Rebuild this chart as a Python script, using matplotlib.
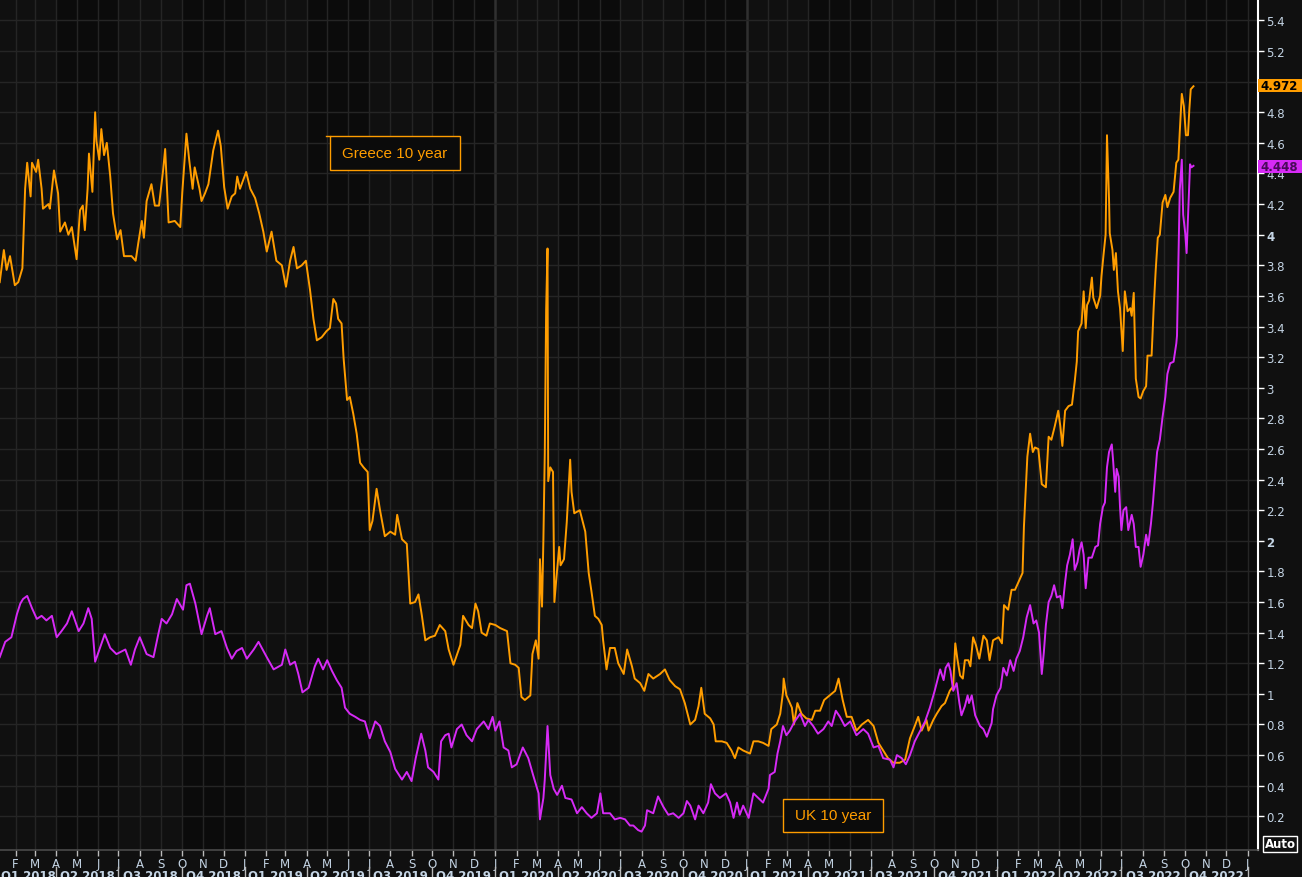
import matplotlib
matplotlib.use('Agg')
import matplotlib.pyplot as plt
import matplotlib.transforms as mtransforms
from matplotlib.patches import Rectangle
import pandas as pd

BASE = pd.Timestamp('2018-01-01')

# (days since 2018-01-01, yield %)
greece_points = [
    (8, 3.69), (14, 3.90), (18, 3.77), (23, 3.86), (30, 3.67), (35, 3.69), (41, 3.78), (45, 4.30), (48, 4.47), (53, 4.25),
    (55, 4.47), (61, 4.41), (64, 4.49), (69, 4.30), (71, 4.17), (79, 4.20), (81, 4.17), (87, 4.42), (93, 4.27), (96, 4.02),
    (103, 4.08), (108, 4.00), (113, 4.05), (120, 3.84), (125, 4.16), (129, 4.19), (132, 4.03), (136, 4.30), (138, 4.53), (143, 4.28),
    (147, 4.80), (149, 4.61), (153, 4.49), (156, 4.69), (160, 4.52), (164, 4.60), (169, 4.38), (173, 4.14), (179, 3.97), (184, 4.03),
    (189, 3.86), (200, 3.86), (206, 3.83), (210, 3.95), (215, 4.09), (218, 3.98), (222, 4.22), (229, 4.33), (234, 4.19), (240, 4.19),
    (246, 4.42), (249, 4.56), (254, 4.08), (263, 4.09), (271, 4.05), (274, 4.28), (280, 4.66), (284, 4.49), (289, 4.30), (292, 4.44),
    (299, 4.30), (302, 4.22), (307, 4.27), (312, 4.33), (319, 4.55), (326, 4.68), (330, 4.58), (335, 4.31), (340, 4.17), (346, 4.25),
    (351, 4.27), (354, 4.38), (358, 4.30), (367, 4.41), (373, 4.30), (380, 4.24), (386, 4.14), (392, 4.02), (397, 3.89), (404, 4.02),
    (411, 3.83), (419, 3.80), (425, 3.66), (431, 3.83), (436, 3.92), (441, 3.78), (448, 3.80), (454, 3.83), (460, 3.64),
    (465, 3.45), (470, 3.31), (477, 3.33), (484, 3.37), (489, 3.39), (494, 3.58), (498, 3.55), (501, 3.45), (506, 3.42), (509, 3.19),
    (514, 2.92), (518, 2.94), (523, 2.83), (528, 2.70), (533, 2.51), (538, 2.48), (544, 2.45), (547, 2.07), (551, 2.13), (557, 2.34),
    (562, 2.20), (569, 2.03), (577, 2.06), (584, 2.04), (587, 2.17), (594, 2.01), (601, 1.98), (606, 1.59), (613, 1.60), (618, 1.65),
    (623, 1.51), (628, 1.35), (635, 1.37), (642, 1.38), (649, 1.45), (657, 1.41), (662, 1.29), (669, 1.19), (679, 1.32), (683, 1.51),
    (691, 1.45), (696, 1.43), (701, 1.59), (705, 1.54), (710, 1.40), (717, 1.38), (722, 1.46), (730, 1.45), (737, 1.43), (747, 1.41),
    (752, 1.20), (759, 1.19), (764, 1.17), (768, 0.98), (773, 0.96), (781, 0.99), (784, 1.26), (789, 1.35), (793, 1.23), (795, 1.88),
    (798, 1.57), (800, 2.01), (802, 2.57), (804, 3.51), (806, 3.91), (807, 2.39), (810, 2.48), (814, 2.45), (816, 1.60), (819, 1.76),
    (823, 1.96), (825, 1.84), (830, 1.88), (834, 2.12), (839, 2.53), (841, 2.32), (845, 2.18), (853, 2.20), (861, 2.06), (866, 1.79),
    (870, 1.67), (875, 1.51), (880, 1.49), (885, 1.45), (887, 1.35), (892, 1.16), (897, 1.30), (904, 1.30), (909, 1.20), (917, 1.13),
    (922, 1.29), (929, 1.18), (933, 1.10), (941, 1.07), (947, 1.02), (953, 1.13), (960, 1.10), (970, 1.13), (977, 1.16), (984, 1.09),
    (992, 1.05), (999, 1.03), (1006, 0.94), (1014, 0.80), (1021, 0.83), (1026, 0.92), (1030, 1.04), (1035, 0.87), (1043, 0.84), (1048, 0.80),
    (1051, 0.69), (1060, 0.69), (1067, 0.68), (1074, 0.63), (1079, 0.58), (1084, 0.65), (1091, 0.63), (1101, 0.61), (1106, 0.69), (1113, 0.69),
    (1120, 0.68), (1128, 0.66), (1132, 0.77), (1140, 0.80), (1145, 0.87), (1149, 1.01), (1150, 1.10), (1154, 0.99), (1162, 0.91), (1165, 0.80),
    (1170, 0.94), (1176, 0.87), (1183, 0.84), (1191, 0.83), (1196, 0.89), (1203, 0.89), (1209, 0.96), (1217, 0.99), (1225, 1.02), (1230, 1.10),
    (1236, 0.96), (1242, 0.85), (1249, 0.85), (1256, 0.76), (1264, 0.80), (1273, 0.83), (1281, 0.79), (1288, 0.68), (1295, 0.63), (1302, 0.58),
    (1310, 0.55), (1319, 0.55), (1327, 0.57), (1334, 0.71), (1341, 0.79), (1346, 0.85), (1351, 0.76), (1358, 0.83), (1361, 0.76), (1368, 0.83),
    (1373, 0.87), (1380, 0.92), (1385, 0.94), (1392, 1.02), (1397, 1.05), (1400, 1.33), (1403, 1.23), (1407, 1.12), (1411, 1.10), (1414, 1.22),
    (1419, 1.22), (1422, 1.18), (1426, 1.37), (1430, 1.32), (1435, 1.23), (1441, 1.38), (1446, 1.35), (1450, 1.22), (1455, 1.35), (1463, 1.37),
    (1468, 1.33), (1471, 1.58), (1477, 1.55), (1482, 1.68), (1487, 1.68), (1493, 1.74), (1498, 1.79), (1500, 2.09), (1503, 2.37), (1505, 2.55),
    (1509, 2.70), (1513, 2.58), (1516, 2.61), (1521, 2.60), (1526, 2.37), (1532, 2.35), (1536, 2.68), (1540, 2.66), (1545, 2.75), (1550, 2.85),
    (1553, 2.75), (1556, 2.62), (1560, 2.85), (1565, 2.88), (1570, 2.89), (1574, 3.04), (1577, 3.17), (1579, 3.37), (1584, 3.42), (1587, 3.63),
    (1590, 3.39), (1592, 3.54), (1595, 3.57), (1599, 3.72), (1601, 3.59), (1606, 3.52), (1611, 3.60), (1613, 3.73), (1616, 3.87), (1619, 4.00),
    (1621, 4.65), (1624, 4.23), (1625, 4.01), (1629, 3.90), (1631, 3.77), (1634, 3.88), (1637, 3.63), (1640, 3.52), (1644, 3.24), (1647, 3.63),
    (1651, 3.50), (1655, 3.52), (1657, 3.47), (1660, 3.62), (1663, 3.06), (1667, 2.94), (1670, 2.93), (1674, 2.98), (1678, 3.01), (1680, 3.21),
    (1686, 3.21), (1689, 3.52), (1692, 3.77), (1695, 3.98), (1698, 4.00), (1702, 4.21), (1706, 4.26), (1709, 4.18), (1713, 4.24), (1718, 4.28),
    (1722, 4.47), (1725, 4.49), (1727, 4.67), (1730, 4.92), (1733, 4.84), (1736, 4.65), (1739, 4.65), (1741, 4.82), (1743, 4.95), (1747, 4.97),
]

uk_points = [
    (8, 1.24), (16, 1.34), (25, 1.37), (33, 1.52), (38, 1.59), (42, 1.62), (48, 1.64), (55, 1.56), (62, 1.49), (69, 1.51),
    (76, 1.48), (84, 1.51), (91, 1.37), (98, 1.41), (106, 1.46), (113, 1.54), (123, 1.41), (130, 1.46), (137, 1.56), (142, 1.49),
    (147, 1.21), (154, 1.30), (161, 1.39), (169, 1.30), (178, 1.26), (191, 1.29), (199, 1.19), (205, 1.29), (212, 1.37), (222, 1.26),
    (232, 1.24), (239, 1.39), (244, 1.49), (251, 1.46), (259, 1.52), (266, 1.62), (275, 1.55), (280, 1.71), (285, 1.72), (293, 1.59),
    (302, 1.39), (310, 1.51), (314, 1.56), (322, 1.39), (331, 1.41), (339, 1.30), (346, 1.23), (353, 1.28), (361, 1.30), (368, 1.23),
    (378, 1.29), (385, 1.34), (397, 1.24), (407, 1.16), (419, 1.19), (424, 1.29), (431, 1.19), (438, 1.21), (443, 1.13), (449, 1.01),
    (458, 1.04), (467, 1.18), (472, 1.23), (479, 1.16), (485, 1.22), (492, 1.15), (499, 1.09), (506, 1.04), (511, 0.91), (518, 0.87),
    (526, 0.85), (533, 0.83), (540, 0.82), (547, 0.71), (555, 0.82), (562, 0.79), (569, 0.69), (577, 0.62), (584, 0.51), (594, 0.44),
    (601, 0.49), (608, 0.43), (614, 0.58), (622, 0.74), (628, 0.63), (632, 0.52), (640, 0.49), (647, 0.44), (651, 0.69), (657, 0.73),
    (662, 0.74), (666, 0.65), (674, 0.77), (681, 0.80), (688, 0.73), (696, 0.69), (703, 0.77), (713, 0.82), (720, 0.77), (726, 0.85),
    (730, 0.76), (736, 0.82), (742, 0.65), (749, 0.63), (754, 0.52), (761, 0.54), (770, 0.65), (778, 0.58), (785, 0.47), (793, 0.35),
    (795, 0.18), (800, 0.32), (802, 0.44), (806, 0.79), (810, 0.47), (815, 0.38), (820, 0.34), (827, 0.40), (832, 0.32), (841, 0.31),
    (849, 0.22), (856, 0.26), (863, 0.22), (870, 0.19), (878, 0.22), (883, 0.35), (887, 0.22), (897, 0.22), (904, 0.18), (912, 0.19),
    (919, 0.18), (926, 0.14), (931, 0.14), (938, 0.11), (943, 0.10), (948, 0.14), (951, 0.24), (960, 0.22), (967, 0.33), (975, 0.26),
    (982, 0.21), (989, 0.22), (997, 0.19), (1004, 0.22), (1009, 0.30), (1014, 0.27), (1021, 0.18), (1026, 0.27), (1033, 0.22), (1040, 0.29),
    (1044, 0.41), (1050, 0.35), (1057, 0.32), (1066, 0.35), (1072, 0.29), (1077, 0.19), (1082, 0.29), (1086, 0.21), (1091, 0.27), (1099, 0.19),
    (1106, 0.35), (1113, 0.32), (1120, 0.29), (1128, 0.38), (1130, 0.47), (1137, 0.49), (1141, 0.61), (1145, 0.69), (1149, 0.79), (1154, 0.73),
    (1159, 0.76), (1166, 0.82), (1174, 0.87), (1181, 0.79), (1186, 0.83), (1193, 0.79), (1200, 0.74), (1208, 0.77), (1215, 0.82), (1220, 0.79),
    (1226, 0.89), (1232, 0.85), (1239, 0.79), (1247, 0.82), (1256, 0.73), (1266, 0.77), (1273, 0.74), (1281, 0.65), (1288, 0.66), (1295, 0.58),
    (1305, 0.57), (1310, 0.52), (1315, 0.60), (1322, 0.58), (1328, 0.54), (1334, 0.60), (1341, 0.69), (1349, 0.76), (1356, 0.82), (1363, 0.91),
    (1370, 1.02), (1378, 1.16), (1383, 1.09), (1386, 1.17), (1390, 1.20), (1393, 1.15), (1397, 1.02), (1402, 1.07), (1406, 0.94), (1409, 0.86),
    (1414, 0.92), (1418, 0.99), (1420, 0.94), (1424, 0.99), (1429, 0.86), (1436, 0.79), (1441, 0.77), (1446, 0.72), (1453, 0.81), (1455, 0.90),
    (1460, 0.99), (1466, 1.04), (1470, 1.17), (1475, 1.12), (1480, 1.22), (1485, 1.15), (1489, 1.23), (1494, 1.28), (1499, 1.37), (1504, 1.50),
    (1509, 1.58), (1514, 1.46), (1518, 1.48), (1522, 1.40), (1526, 1.13), (1529, 1.27), (1532, 1.45), (1536, 1.60), (1540, 1.64), (1544, 1.71),
    (1548, 1.63), (1553, 1.64), (1556, 1.56), (1560, 1.73), (1563, 1.84), (1567, 1.91), (1571, 2.01), (1574, 1.81), (1578, 1.86), (1581, 1.94),
    (1584, 1.99), (1587, 1.91), (1590, 1.69), (1594, 1.89), (1599, 1.89), (1604, 1.96), (1608, 1.97), (1611, 2.11), (1615, 2.22), (1618, 2.25),
    (1621, 2.48), (1624, 2.58), (1628, 2.63), (1630, 2.52), (1633, 2.32), (1635, 2.47), (1638, 2.42), (1640, 2.22), (1642, 2.07), (1645, 2.20),
    (1649, 2.22), (1652, 2.07), (1657, 2.17), (1660, 2.11), (1663, 1.96), (1667, 1.96), (1670, 1.83), (1674, 1.91), (1678, 2.04), (1681, 1.97),
    (1685, 2.11), (1688, 2.25), (1691, 2.42), (1694, 2.58), (1698, 2.66), (1702, 2.81), (1706, 2.94), (1709, 3.09), (1713, 3.16), (1718, 3.17),
    (1722, 3.29), (1723, 3.34), (1725, 3.82), (1727, 4.29), (1730, 4.49), (1732, 4.13), (1735, 4.01), (1737, 3.88), (1740, 4.23), (1742, 4.46),
    (1744, 4.44), (1747, 4.45),
]

greece_last = 4.972
uk_last = 4.448
greece_label = 'Greece 10 year'
uk_label = 'UK 10 year'
month_letters = ['J', 'F', 'M', 'A', 'M', 'J', 'J', 'A', 'S', 'O', 'N', 'D']
y_ticks = [round(0.2 * i, 1) for i in range(1, 29)]

ORANGE = '#ff9d00'
MAGENTA = '#d62af5'
TICK_COL = '#c4d4e4'
GRID_COL = '#252525'
BG = '#0b0b0b'
BG2 = '#101010'


def to_series(points):
    d = [BASE + pd.Timedelta(days=p[0]) for p in points]
    v = [p[1] for p in points]
    return d, v


g_d, g_v = to_series(greece_points)
u_d, u_v = to_series(uk_points)

W, H = 1302, 878
fig = plt.figure(figsize=(W / 100, H / 100), dpi=100, facecolor='#101010')
ax_w, ax_h = 1258, 851
ax = fig.add_axes([0, 1 - ax_h / H, ax_w / W, ax_h / H])
ax.set_facecolor(BG)

x0 = BASE + pd.Timedelta(days=8.4)
x1 = BASE + pd.Timedelta(days=1841)

# alternating quarter shading
qstarts = pd.date_range('2018-01-01', '2023-01-01', freq='QS')
for i, qs in enumerate(qstarts[:-1]):
    if i % 2 == 0:
        ax.axvspan(qs, qstarts[i + 1], color=BG2, zorder=0, lw=0)

# grid
months = pd.date_range('2018-02-01', '2023-01-01', freq='MS')
for m in months:
    strong = (m.month == 1 and m.year in (2020, 2021))
    ax.axvline(m, color='#303030' if strong else GRID_COL, lw=1.8 if strong else 1.0, zorder=1)
for yv in y_ticks:
    ax.axhline(yv, color=GRID_COL, lw=1.0, zorder=1)

ax.plot(g_d, g_v, color=ORANGE, lw=1.4, zorder=3)
ax.plot(u_d, u_v, color=MAGENTA, lw=1.4, zorder=4)

# spines
for s in ['left', 'top']:
    ax.spines[s].set_visible(False)
ax.spines['right'].set_color('white')
ax.spines['right'].set_linewidth(1.5)
ax.spines['bottom'].set_color('#4a4a4a')
ax.spines['bottom'].set_linewidth(1.2)

# y axis on right
ax.yaxis.tick_right()
ax.set_yticks(y_ticks)
ax.set_yticklabels(['%g' % v for v in y_ticks])
ax.tick_params(axis='y', colors='white', labelcolor=TICK_COL, labelsize=8.5, length=4, width=1, pad=2)
for lbl, v in zip(ax.get_yticklabels(), y_ticks):
    if v in (2.0, 4.0):
        lbl.set_fontweight('bold')

# x axis month ticks
ax.set_xticks(months)
ax.set_xticklabels([month_letters[m.month - 1] for m in months])
ax.tick_params(axis='x', colors='#bbbbbb', labelcolor=TICK_COL, labelsize=8.5, length=4, width=1, pad=1)

# limits after ticks (set_ticks may expand limits)
ax.set_xlim(x0, x1)
ax.set_ylim(-0.02, 5.54)

# quarter labels and separators
trans_x = mtransforms.blended_transform_factory(ax.transData, ax.transAxes)
for i in range(len(qstarts) - 1):
    a, b = qstarts[i], qstarts[i + 1]
    aa = max(a, x0)
    mid = aa + (b - aa) / 2
    q = (a.month - 1) // 3 + 1
    ax.text(mid, -25 / ax_h, f'Q{q} {a.year}', transform=trans_x, ha='center', va='center',
            fontsize=8.5, fontweight='bold', color=TICK_COL, clip_on=False)
for b in qstarts[1:]:
    ax.plot([b, b], [-17 / ax_h, -30 / ax_h], transform=trans_x, color='#bbbbbb', lw=1, clip_on=False)

# value tags on the right
trans_y = mtransforms.blended_transform_factory(ax.transAxes, ax.transData)
tag_w = (W - ax_w) / ax_w
tag_h = 13 / 153
for val, col, tcol in [(greece_last, ORANGE, 'black'), (uk_last, MAGENTA, '#4a0a5a')]:
    ax.add_patch(Rectangle((1.0, val - tag_h / 2), tag_w, tag_h, transform=trans_y,
                           facecolor=col, edgecolor='none', clip_on=False, zorder=6))
    ax.text(1.0 + 2 / ax_w, val, f'{val:.3f}', transform=trans_y, ha='left', va='center',
            fontsize=8.5, fontweight='bold', color=tcol, clip_on=False, zorder=7)


# legend boxes
def label_box(x_px0, x_px1, y_px0, y_px1, text, leader=False):
    ax.add_patch(Rectangle((x_px0 / ax_w, 1 - y_px1 / ax_h), (x_px1 - x_px0) / ax_w, (y_px1 - y_px0) / ax_h,
                           transform=ax.transAxes, facecolor=BG, edgecolor=ORANGE, lw=1.0, zorder=8))
    ax.text((x_px0 + x_px1) / 2 / ax_w, 1 - (y_px0 + y_px1) / 2 / ax_h, text, transform=ax.transAxes,
            ha='center', va='center', fontsize=11, color=ORANGE, family='Liberation Sans', zorder=9)
    if leader:
        ax.plot([(x_px0 - 4) / ax_w, x_px0 / ax_w], [1 - y_px0 / ax_h, 1 - y_px0 / ax_h],
                transform=ax.transAxes, color=ORANGE, lw=1, zorder=9)


label_box(330, 460, 137, 171, greece_label, leader=True)
label_box(783, 883, 800, 833, uk_label)

# Auto box
fig.text(1280 / W, 1 - 845 / H, 'Auto', ha='center', va='center', fontsize=8.5, fontweight='bold',
         color='white', bbox=dict(boxstyle='square,pad=0.15', facecolor='#101010', edgecolor='white', lw=1))

fig.savefig('out.png', dpi=100, facecolor=fig.get_facecolor())
